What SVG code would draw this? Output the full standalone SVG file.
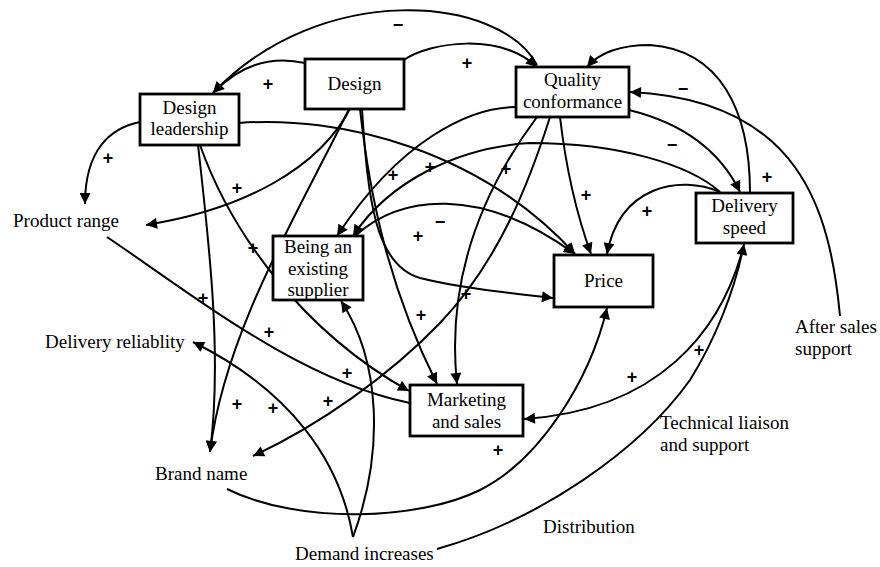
<svg xmlns="http://www.w3.org/2000/svg" width="880" height="567" viewBox="0 0 880 567" font-family="Liberation Serif, Times New Roman, serif">
<style>
.box{fill:#fff;stroke:#000;stroke-width:2.8}
.t{font-size:19px;fill:#000;text-anchor:middle}
.tl{font-size:19px;fill:#000}
.c path{fill:none;stroke:#000;stroke-width:2}
.c path.a{marker-end:url(#ah)}
.s{font-size:18px;font-weight:bold;fill:#000;text-anchor:middle;dominant-baseline:central}
</style>
<defs>
<marker id="ah" viewBox="0 0 10 10" refX="10" refY="5" markerWidth="13" markerHeight="11" markerUnits="userSpaceOnUse" orient="auto"><path d="M0,0 L10,5 L0,10 z" fill="#000"/></marker>
</defs>
<rect width="880" height="567" fill="#fff"/>
<g id="connectors" class="c">
<path class="a" d="M537,65 C500,-5 320,-20 213,93"/>
<path class="a" d="M305,63 C270,55 240,65 213,93"/>
<path class="a" d="M404,60 C430,42 500,32 537,67"/>
<path class="a" d="M750,193 C750,110 720,50 650,45 C620,45 600,52 587,67"/>
<path class="a" d="M840,316 C830,210 800,100 630,92"/>
<path class="a" d="M629,110 Q710,130 740,192"/>
<path class="a" d="M720,192 C690,165 620,143 530,143 C460,147 390,180 353,236"/>
<path class="a" d="M720,192 C680,175 620,185 607,254"/>
<path class="a" d="M560,117 C565,160 575,210 591,254"/>
<path class="a" d="M537,117 C490,180 445,270 457,384"/>
<path class="a" d="M550,117 C530,180 500,260 440,323 C390,375 320,425 253,456"/>
<path class="a" d="M516,107 C470,107 400,140 337,236"/>
<path class="a" d="M355,236 C400,195 480,185 575,254"/>
<path class="a" d="M239,123 C340,115 480,150 575,254"/>
<path class="a" d="M140,122 C110,128 85,150 85,204"/>
<path class="a" d="M198,145 C210,250 222,360 210,452"/>
<path class="a" d="M200,145 C230,230 300,330 409,391"/>
<path class="a" d="M362,109 C368,200 375,265 420,278 C460,288 510,293 553,298"/>
<path class="a" d="M360,109 C370,200 390,290 437,384"/>
<path class="a" d="M352,105 C320,170 240,210 146,225"/>
<path class="a" d="M352,103 C300,210 225,330 210,452"/>
<path d="M107,237 C200,300 300,380 410,403"/>
<path class="a" d="M353,537 C340,460 290,390 193,342"/>
<path class="a" d="M353,537 C385,450 380,360 341,301"/>
<path class="a" d="M227,489 C300,525 420,520 480,490 C540,460 590,380 607,308"/>
<path class="a" d="M437,549 C540,520 640,450 690,380 C715,340 735,290 744,244"/>
<path class="a" d="M742,252 C720,330 660,410 524,419"/>
</g>
<g id="n-design"><rect class="box" x="305" y="59" width="99" height="50"/><text class="t" x="354.5" y="90">Design</text></g>
<g id="n-design-leadership"><rect class="box" x="140" y="94" width="99" height="51"/><text class="t" x="189.5" y="114">Design</text><text class="t" x="189.5" y="135">leadership</text></g>
<g id="n-quality"><rect class="box" x="516" y="67" width="113" height="50"/><text class="t" x="572.5" y="86">Quality</text><text class="t" x="572.5" y="108">conformance</text></g>
<g id="n-delivery-speed"><rect class="box" x="696" y="193" width="97" height="50"/><text class="t" x="744.5" y="212">Delivery</text><text class="t" x="744.5" y="234">speed</text></g>
<g id="n-price"><rect class="box" x="554" y="255" width="99" height="52"/><text class="t" x="603.5" y="287">Price</text></g>
<g id="n-existing-supplier"><rect class="box" x="273" y="236" width="90" height="64"/><text class="t" x="318" y="253">Being an</text><text class="t" x="318" y="275">existing</text><text class="t" x="318" y="296">supplier</text></g>
<g id="n-marketing"><rect class="box" x="410" y="385" width="113" height="51"/><text class="t" x="466.5" y="406">Marketing</text><text class="t" x="466.5" y="428">and sales</text></g>
<g id="n-product-range"><text class="tl" x="13" y="227">Product range</text></g>
<g id="n-delivery-reliability"><text class="tl" x="45" y="348">Delivery reliablity</text></g>
<g id="n-brand-name"><text class="tl" x="155" y="480">Brand name</text></g>
<g id="n-demand"><text class="tl" x="295" y="560">Demand increases</text></g>
<g id="n-distribution"><text class="tl" x="543" y="533">Distribution</text></g>
<g id="n-technical"><text class="tl" x="660" y="429">Technical liaison</text><text class="tl" x="660" y="451">and support</text></g>
<g id="n-after-sales"><text class="tl" x="795" y="333">After sales</text><text class="tl" x="795" y="355">support</text></g>
<g id="signs" font-family="Liberation Sans, Arial, sans-serif">
<text class="s" x="398" y="25">−</text>
<text class="s" x="268" y="84">+</text>
<text class="s" x="467" y="63">+</text>
<text class="s" x="683" y="89">−</text>
<text class="s" x="108" y="158">+</text>
<text class="s" x="237" y="188">+</text>
<text class="s" x="393" y="175">+</text>
<text class="s" x="430" y="167">+</text>
<text class="s" x="506" y="169">+</text>
<text class="s" x="672" y="145">−</text>
<text class="s" x="767" y="177">+</text>
<text class="s" x="586" y="195">+</text>
<text class="s" x="647" y="211">+</text>
<text class="s" x="253" y="248">+</text>
<text class="s" x="418" y="236">+</text>
<text class="s" x="440" y="222">−</text>
<text class="s" x="203" y="298">+</text>
<text class="s" x="269" y="332">+</text>
<text class="s" x="466" y="294">+</text>
<text class="s" x="421" y="315">+</text>
<text class="s" x="347" y="373">+</text>
<text class="s" x="237" y="404">+</text>
<text class="s" x="273" y="408">+</text>
<text class="s" x="328" y="401">+</text>
<text class="s" x="632" y="377">+</text>
<text class="s" x="699" y="350">+</text>
<text class="s" x="498" y="450">+</text>
</g>
</svg>
